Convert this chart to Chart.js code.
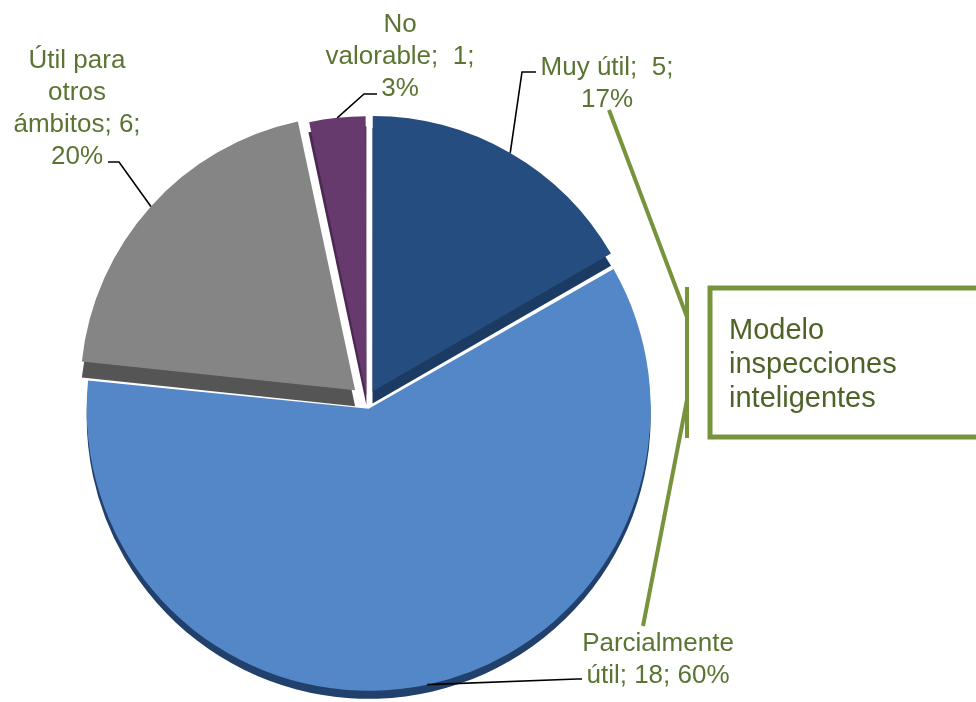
<!DOCTYPE html>
<html><head><meta charset="utf-8">
<script src="https://cdn.jsdelivr.net/npm/chart.js@4"></script>
<style>html,body{margin:0;padding:0;background:#fff;}#wrap{position:relative;width:976px;height:702px;}</style>
</head><body><div id="wrap"><canvas id="c" width="976" height="702"></canvas></div>
<script>
// ---- data ----
const categories = ['Muy útil', 'Parcialmente útil', 'Útil para otros ámbitos', 'No valorable'];
const counts = [5, 18, 6, 1];
const percents = ['17%', '60%', '20%', '3%'];
const labelLines = [
  ['Muy útil;  5;', '17%'],
  ['Parcialmente', 'útil; 18; 60%'],
  ['Útil para', 'otros', 'ámbitos; 6;', '20%'],
  ['No', 'valorable;  1;', '3%']
];
const boxLines = ['Modelo', 'inspecciones', 'inteligentes'];

// ---- style ----
const sliceColors = ['#254d7f', '#5387c8', '#858585', '#663a6c'];
const edgeColors = ['#1c3b62', '#21406b', '#555555', '#4a2851'];
const sliceOffsets = [44, 32, 64, 24];
const sliceDepths = [12, 8, 16, 10];
const labelColor = '#5b7432';
const green = '#77933c';

const labelPos = [
  {x: 607, y: 75, lead: [[522, 72], [536, 72]]},
  {x: 658, y: 651, lead: [[577, 679], [582, 679]]},
  {x: 77, y: 68, lead: [[119, 162], [108, 162]]},
  {x: 400, y: 32, lead: [[364, 94], [377, 94]]}
];

// geometry of an arc as Chart.js draws it (offset/4 translation + radius fix)
function arcGeom(el) {
  const p = el.getProps(['x', 'y', 'startAngle', 'endAngle', 'outerRadius', 'circumference'], true);
  const t = (el.options.offset || 0) / 4;
  const mid = (p.startAngle + p.endAngle) / 2;
  const fix = 1 - Math.sin(Math.min(Math.PI, p.circumference || 0));
  return {
    cx: p.x + Math.cos(mid) * t,
    cy: p.y + Math.sin(mid) * t,
    r: p.outerRadius + t * fix,
    start: p.startAngle, end: p.endAngle, mid
  };
}

const depthPlugin = {
  id: 'depth',
  beforeDatasetsDraw(chart) {
    const ctx = chart.ctx;
    chart.getDatasetMeta(0).data.forEach((el, i) => {
      const g = arcGeom(el);
      const d = sliceDepths[i];
      ctx.save();
      ctx.beginPath();
      ctx.moveTo(g.cx, g.cy + d);
      ctx.arc(g.cx, g.cy + d, g.r, g.start, g.end);
      ctx.closePath();
      ctx.fillStyle = edgeColors[i];
      ctx.fill();
      ctx.restore();
    });
  }
};

const labelPlugin = {
  id: 'outLabels',
  afterDraw(chart) {
    const ctx = chart.ctx;
    ctx.save();
    chart.getDatasetMeta(0).data.forEach((el, i) => {
      const g = arcGeom(el);
      const sx = g.cx + Math.cos(g.mid) * g.r;
      const sy = g.cy + Math.sin(g.mid) * g.r;
      ctx.beginPath();
      ctx.moveTo(sx, sy);
      labelPos[i].lead.forEach(pt => ctx.lineTo(pt[0], pt[1]));
      ctx.strokeStyle = '#000';
      ctx.lineWidth = 1.6;
      ctx.stroke();
    });
    ctx.font = '26px "Liberation Sans", Arial, sans-serif';
    ctx.fillStyle = labelColor;
    ctx.textAlign = 'center';
    ctx.textBaseline = 'alphabetic';
    labelLines.forEach((lines, i) => {
      const lp = labelPos[i];
      lines.forEach((t, k) => ctx.fillText(t, lp.x, lp.y + k * 32));
    });
    // annotation: bracket, connecting lines and box
    ctx.strokeStyle = green;
    ctx.lineWidth = 4;
    ctx.beginPath();
    ctx.moveTo(687, 287); ctx.lineTo(687, 438);
    ctx.moveTo(609, 110); ctx.lineTo(687, 317);
    ctx.moveTo(687, 400); ctx.lineTo(643, 626);
    ctx.stroke();
    ctx.lineWidth = 5;
    ctx.strokeRect(710, 288, 300, 149);
    ctx.font = '29px "Liberation Sans", Arial, sans-serif';
    ctx.fillStyle = '#4f6228';
    ctx.textAlign = 'left';
    boxLines.forEach((t, k) => ctx.fillText(t, 729, 339 + k * 34));
    ctx.restore();
  }
};

new Chart(document.getElementById('c'), {
  type: 'pie',
  data: {
    labels: categories,
    datasets: [{
      data: counts,
      backgroundColor: sliceColors,
      borderColor: '#ffffff',
      borderWidth: 0,
      offset: sliceOffsets
    }]
  },
  options: {
    responsive: false,
    animation: false,
    radius: 274,
    layout: {padding: {left: 0, right: 242, top: 100, bottom: 0}},
    plugins: {legend: {display: false}, tooltip: {enabled: false}}
  },
  plugins: [depthPlugin, labelPlugin]
});
</script>
</body></html>
